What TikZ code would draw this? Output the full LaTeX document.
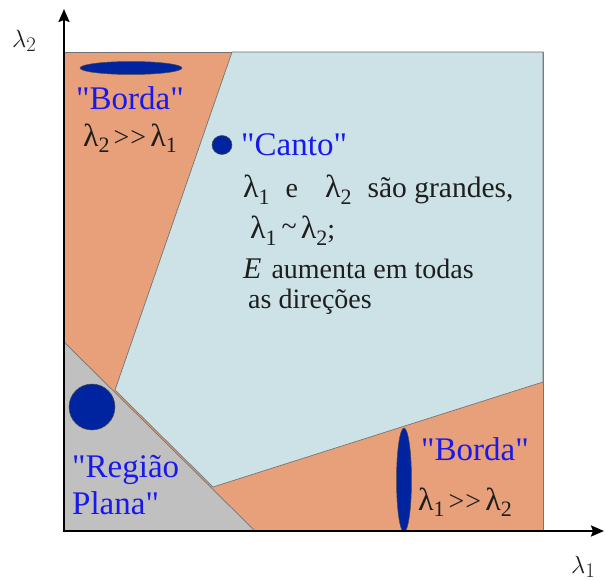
\documentclass[tikz,border=0pt]{standalone}
\usepackage{fontspec}
\setmainfont{Liberation Serif}[Ligatures=TeXOff]
\usetikzlibrary{arrows.meta}
\definecolor{orng}{RGB}{232,160,122}
\definecolor{lblue}{RGB}{204,226,230}
\definecolor{gry}{RGB}{192,192,192}
\definecolor{dblue}{RGB}{0,36,160}
\definecolor{tblue}{RGB}{25,25,235}
\definecolor{tblack}{RGB}{30,30,30}
\newcommand{\mylam}[1]{{\fontsize{32}{32}\selectfont λ}\raisebox{-6pt}{\fontsize{22}{22}\selectfont #1}}
\newcommand{\axlam}[1]{{\fontsize{25}{25}\selectfont$\lambda$}\raisebox{-4pt}{\fontsize{20}{20}\selectfont$#1$}}
\newcommand{\gtgt}{>\kern1pt>}
\begin{document}
\begin{tikzpicture}[x=1pt,y=-1pt,
  bluetxt/.style={text=tblue,font=\fontsize{33}{33}\selectfont,inner sep=0pt,anchor=base west},
  blacktxt/.style={text=tblack,font=\fontsize{28}{28}\selectfont,inner sep=0pt,anchor=base west},
  axlabel/.style={text=tblack,inner sep=0pt,anchor=base west},
  region/.style={draw=black!55,line width=0.7pt},
  blob/.style={fill=dblue,draw=black!70,line width=0.5pt},
  axis/.style={line width=2.2pt,{Stealth[length=13pt,width=11pt,inset=2pt]}-{Stealth[length=13pt,width=11pt,inset=2pt]}}]
\useasboundingbox (0,0) rectangle (605,580);
\fill[orng] (64,52) rectangle (543,531);
\draw[region] (64,52) -- (543,52) -- (543,531);
\filldraw[region,fill=lblue] (232,52) -- (543,52) -- (543,382) -- (213,487) -- (115,390) -- cycle;
\filldraw[region,fill=gry] (64,342) -- (255,531) -- (64,531) -- cycle;
% blobs
\filldraw[blob] (131,68) ellipse [x radius=51pt,y radius=6.5pt];
\filldraw[blob] (222,145) ellipse [x radius=10pt,y radius=9.5pt];
\filldraw[blob] (92,407) circle [radius=23pt];
\filldraw[blob] (404,480) ellipse [x radius=7.5pt,y radius=52pt];
% axes
\coordinate (o) at (64,531);
\coordinate (ytip) at (64,9);
\coordinate (xtip) at (604,531);
\draw[axis] (ytip) -- (o) -- (xtip);
\node[axlabel] (ylab) at (12,48) {\axlam{2}};
\node[axlabel] (xlab) at (571,573) {\axlam{1}};
% texts
\node[bluetxt] (borda1) at (76,110) {"Borda"};
\node[blacktxt] (rel1) at (83,147) {\mylam{2}\hspace{4pt}\gtgt\hspace{4pt}\mylam{1}};
\node[bluetxt] (canto) at (241,156) {"Canto"};
\node[blacktxt] (c1) at (243,198) {\mylam{1}\hspace{16pt}e\hspace{27pt}\mylam{2}\hspace{16pt}{\fontsize{29.5}{29.5}\selectfont são grandes,}};
\node[blacktxt] (c2) at (250,239) {\mylam{1}\hspace{5pt}\raisebox{3pt}{\textasciitilde}\hspace{4pt}\mylam{2};};
\node[blacktxt] (c3) at (243,278) {{\fontsize{30}{30}\selectfont\itshape E}\hspace{10pt}aumenta em todas};
\node[blacktxt] (c4) at (248,308) {as direções};
\node[bluetxt] (borda2) at (421,460) {"Borda"};
\node[blacktxt] (rel2) at (418,510) {\mylam{1}\hspace{4pt}\gtgt\hspace{4pt}\mylam{2}};
\node[bluetxt] (regiao) at (72,477) {"Região};
\node[bluetxt] (plana) at (72,514) {Plana"};
\end{tikzpicture}
\end{document}
